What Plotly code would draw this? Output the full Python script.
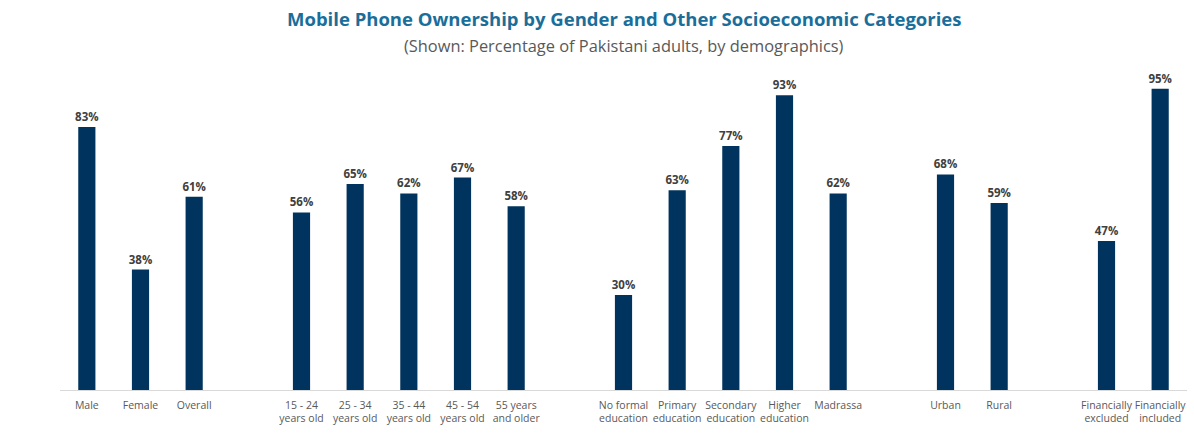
import plotly.graph_objects as go

groups = [
    ["Male", "Female", "Overall"],
    ["15 - 24<br>years old", "25 - 34<br>years old", "35 - 44<br>years old", "45 - 54<br>years old", "55 years<br>and older"],
    ["No formal<br>education", "Primary<br>education", "Secondary<br>education", "Higher<br>education", "Madrassa"],
    ["Urban", "Rural"],
    ["Financially<br>excluded", "Financially<br>included"],
]
values = [
    [83, 38, 61],
    [56, 65, 62, 67, 58],
    [30, 63, 77, 93, 62],
    [68, 59],
    [47, 95],
]

xs, labels, vals = [], [], []
pos = 0
for g, v in zip(groups, values):
    for lab, val in zip(g, v):
        xs.append(pos)
        labels.append(lab)
        vals.append(val)
        pos += 1
    pos += 1  # gap between groups

fig = go.Figure(go.Bar(
    x=xs, y=vals, width=0.32,
    marker=dict(color="#00345E", line=dict(width=0)),
    text=[f"{v}%" for v in vals], textposition="outside",
    constraintext="none",
    textfont=dict(family="Open Sans", size=11.5, color="#404040", weight="bold"),
    cliponaxis=False,
))

fig.update_layout(
    width=1194, height=440,
    margin=dict(l=60, r=7, t=73, b=50),
    paper_bgcolor="white", plot_bgcolor="white",
    showlegend=False,
    xaxis=dict(range=[-0.5, xs[-1] + 0.5], tickvals=xs, ticktext=labels,
               showgrid=False, zeroline=False, showline=True, linecolor="#D9D9D9",
               linewidth=1, ticks="", ticklabelstandoff=5,
               tickfont=dict(family="Open Sans", size=10.5, color="#595959")),
    yaxis=dict(range=[0, 100], visible=False),
)
fig.add_annotation(text="<b>Mobile Phone Ownership by Gender and Other Socioeconomic Categories</b>",
                   xref="paper", yref="paper", x=0.5, y=1, yshift=55, showarrow=False,
                   xanchor="center", yanchor="middle",
                   font=dict(family="Open Sans", size=18.5, color="#1A6E99"))
fig.add_annotation(text="(Shown: Percentage of Pakistani adults, by demographics)",
                   xref="paper", yref="paper", x=0.5, y=1, yshift=28, showarrow=False,
                   xanchor="center", yanchor="middle",
                   font=dict(family="Open Sans", size=16.4, color="#595959"))

fig.write_html("out.html")
